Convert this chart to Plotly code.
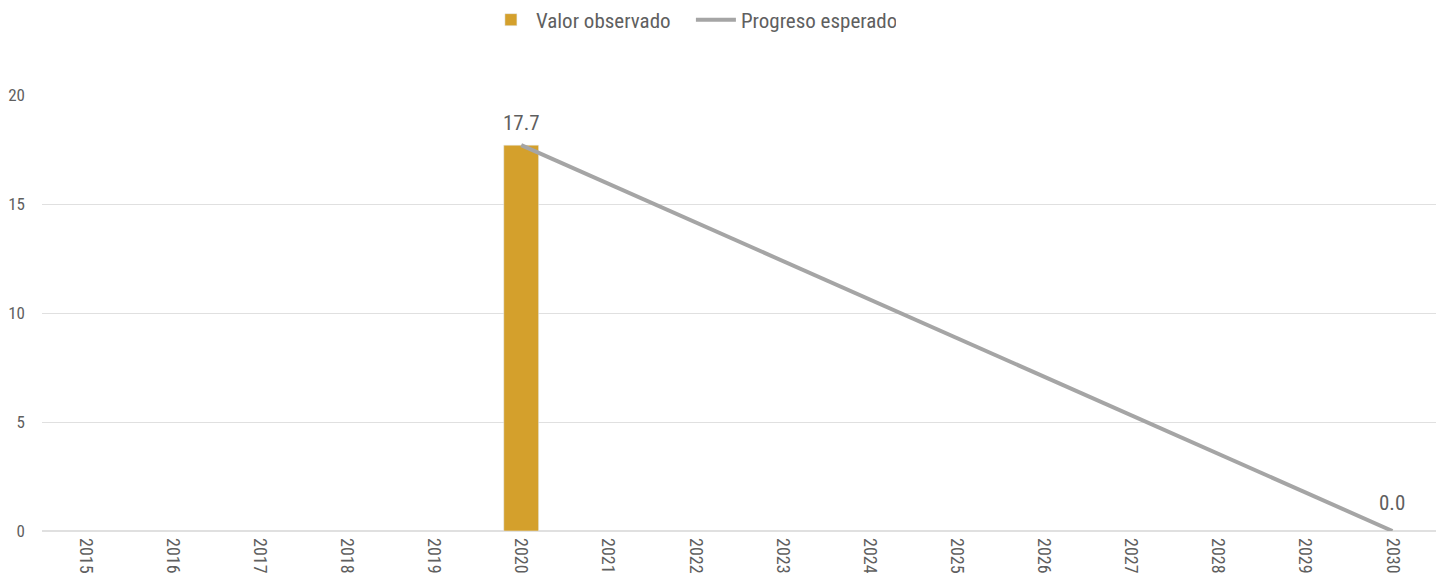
import plotly.graph_objects as go

years = [str(y) for y in range(2015, 2031)]
obs_years = ["2020"]
obs_values = [17.7]
exp_years = ["2020", "2030"]
exp_values = [17.7, 0.0]

font_family = "Roboto Condensed, Liberation Sans Narrow, Roboto, sans-serif"
text_color = "#5f5f5f"

fig = go.Figure()
fig.add_trace(go.Bar(
    x=obs_years, y=obs_values, name="Valor observado",
    marker=dict(color="#D4A02C"), width=0.4,
))
fig.add_trace(go.Scatter(
    x=exp_years, y=exp_values, name="Progreso esperado", mode="lines",
    line=dict(color="#A5A5A5", width=4), cliponaxis=False,
))
for xv, yv in zip(obs_years, obs_values):
    fig.add_annotation(x=years.index(xv), y=yv, text=f"{yv:.1f}", showarrow=False,
                       xref="x", yref="y", yshift=22,
                       font=dict(size=21, color=text_color))
fig.add_annotation(x=years.index(exp_years[-1]), y=exp_values[-1],
                   text=f"{exp_values[-1]:.1f}", xref="x", yref="y",
                   showarrow=False, yshift=28, font=dict(size=21, color=text_color))

fig.update_layout(
    width=1444, height=584,
    margin=dict(l=34, r=16, t=87, b=61, autoexpand=False),
    plot_bgcolor="white", paper_bgcolor="white",
    font=dict(family=font_family, color=text_color, size=17),
    legend=dict(orientation="h", x=0.4655, xanchor="center", y=1.172, yanchor="middle",
                font=dict(size=21, color=text_color),
                traceorder="normal", itemwidth=40, entrywidth=150),
    showlegend=True,
)
fig.update_xaxes(type="category", categoryorder="array", categoryarray=years,
                 tickvals=years, tickangle=90, tickfont=dict(size=18, color=text_color),
                 showgrid=False, showline=False, ticks="", range=[-0.5, 15.5],
                 automargin=False, ticklabelstandoff=6)
fig.update_yaxes(range=[0, 20], tickvals=[0, 5, 10, 15, 20], gridcolor="#E0E0E0",
                 gridwidth=1, zeroline=True, zerolinecolor="#E0E0E0",
                 tickfont=dict(size=17, color=text_color), ticklabelstandoff=16,
                 automargin=False)
fig.write_html("out.html")
